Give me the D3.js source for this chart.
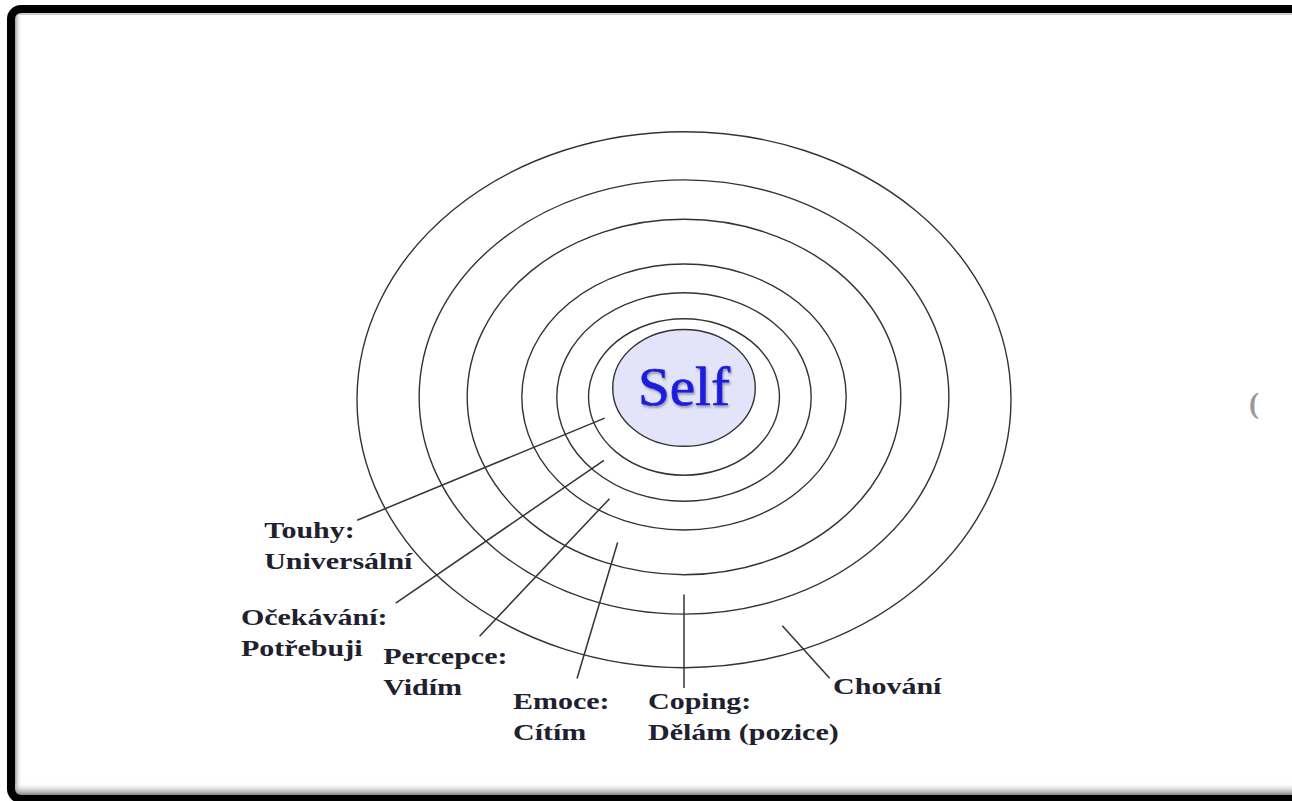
<!DOCTYPE html>
<html>
<head>
<meta charset="utf-8">
<script src="https://cdn.jsdelivr.net/npm/d3@7"></script>
<style>
  html, body { margin: 0; padding: 0; background: #fff; }
  svg { display: block; }
</style>
</head>
<body>
<svg width="1292" height="801"></svg>
<script>
// vrstvy od středu ven
var layers = ["Self", "Touhy", "Očekávání", "Percepce", "Emoce", "Coping", "Chování"];
// poloměry kruhů (podíl vnějšího kruhu)
var ringRadius = [0.218, 0.292, 0.389, 0.496, 0.663, 0.81, 1.0];
// svislý posun středu kruhu (kruhy nejsou přesně soustředné)
var ringShift = [-0.034, 0, 0, 0, 0, 0, 0.01];
// popisky (první a druhý řádek)
var labelLines = [
    ["Touhy:", "Universální"],
    ["Očekávání:", "Potřebuji"],
    ["Percepce:", "Vidím"],
    ["Emoce:", "Cítím"],
    ["Coping:", "Dělám (pozice)"],
    ["Chování"]
];
var centerText = "Self";

// rozložení: úhel čáry ve stupních, konec čáry [úhel, poloměr], pozice popisku [x, y] v jednotkách diagramu
var leaderAngle = [162, 136, 121, 110.5, 90, 70.6];
var leaderEnd = [[155.3, 1.10], [138.9, 1.17], [125, 1.09], [107.3, 1.10], [90, 1.086], [67, 1.14]];
var labelPos = [[-1.284, 0.526], [-1.355, 0.850], [-0.92, 0.995], [-0.523, 1.163], [-0.11, 1.163], [0.456, 1.108]];

var svg = d3.select("svg"),
    W = +svg.attr("width"),
    H = +svg.attr("height");

/*
  rámeček s vnitřním stínem
*/
var defs = svg.append("defs");
var gl = defs.append("linearGradient").attr("id", "shL").attr("x1", 0).attr("x2", 1).attr("y1", 0).attr("y2", 0);
gl.append("stop").attr("offset", 0).attr("stop-color", "#888").attr("stop-opacity", 0.8);
gl.append("stop").attr("offset", 1).attr("stop-color", "#fff").attr("stop-opacity", 0);
var gb = defs.append("linearGradient").attr("id", "shB").attr("x1", 0).attr("x2", 0).attr("y1", 0).attr("y2", 1);
gb.append("stop").attr("offset", 0).attr("stop-color", "#fff").attr("stop-opacity", 0);
gb.append("stop").attr("offset", 1).attr("stop-color", "#777").attr("stop-opacity", 0.9);
defs.append("filter").attr("id", "txtShadow")
    .append("feDropShadow").attr("dx", 1).attr("dy", 2).attr("stdDeviation", 1.2)
    .attr("flood-color", "#555").attr("flood-opacity", 0.55);

svg.append("rect").attr("width", W).attr("height", H).attr("fill", "#fff");
svg.append("rect").attr("x", 15).attr("y", 13).attr("width", 7).attr("height", 782).attr("fill", "url(#shL)");
svg.append("rect").attr("x", 15).attr("y", 782).attr("width", W).attr("height", 13).attr("fill", "url(#shB)");
svg.append("rect").attr("x", 15).attr("y", 13).attr("width", W).attr("height", 2).attr("fill", "#ccc");
svg.append("rect")
    .attr("x", 11).attr("y", 9)
    .attr("width", 1400).attr("height", 790)
    .attr("rx", 10)
    .attr("fill", "none")
    .attr("stroke", "#000")
    .attr("stroke-width", 8);

/*
  škály diagramu (obrázek je vodorovně roztažený)
*/
var cx = 684, cy = 397, Rx = 327, Ry = 268;
var x = d3.scaleLinear().domain([-1, 1]).range([cx - Rx, cx + Rx]);
var y = d3.scaleLinear().domain([-1, 1]).range([cy - Ry, cy + Ry]);
function px(a, r) { return x(r * Math.cos(a * Math.PI / 180)); }
function py(a, r) { return y(r * Math.sin(a * Math.PI / 180)); }

var g = svg.append("g");

// kruhy od největšího
var rings = layers.map(function(d, i) { return {name: d, r: ringRadius[i], dy: ringShift[i]}; }).reverse();
g.selectAll("ellipse.ring")
    .data(rings)
    .enter().append("ellipse")
    .attr("class", "ring")
    .attr("cx", x(0))
    .attr("cy", function(d) { return y(d.dy); })
    .attr("rx", function(d) { return x(d.r) - x(0); })
    .attr("ry", function(d) { return y(d.r) - y(0); })
    .attr("fill", function(d) { return d.name == "Self" ? "#e3e3f9" : "none"; })
    .attr("stroke", "#333")
    .attr("stroke-width", 1.4);

g.append("text")
    .attr("x", x(0))
    .attr("y", y(ringShift[0]) + 17)
    .attr("text-anchor", "middle")
    .attr("font-family", "'Liberation Serif', 'Times New Roman', serif")
    .attr("font-size", 54)
    .attr("fill", "#1d1ddc")
    .attr("stroke", "#1d1ddc")
    .attr("stroke-width", 0.7)
    .attr("filter", "url(#txtShadow)")
    .attr("transform", "translate(" + x(0) + ",0) scale(1.06,1) translate(" + (-x(0)) + ",0)")
    .text(centerText);

// vodicí čáry
var leaders = labelLines.map(function(d, i) {
    var r = (ringRadius[i] + ringRadius[i + 1]) / 2;
    return {
        x1: px(leaderAngle[i], r), y1: py(leaderAngle[i], r),
        x2: px(leaderEnd[i][0], leaderEnd[i][1]), y2: py(leaderEnd[i][0], leaderEnd[i][1])
    };
});
g.selectAll("line.leader")
    .data(leaders)
    .enter().append("line")
    .attr("class", "leader")
    .attr("x1", function(d) { return d.x1; })
    .attr("y1", function(d) { return d.y1; })
    .attr("x2", function(d) { return d.x2; })
    .attr("y2", function(d) { return d.y2; })
    .attr("stroke", "#333")
    .attr("stroke-width", 1.5);

// popisky
var lab = g.selectAll("g.label")
    .data(labelLines)
    .enter().append("g")
    .attr("class", "label")
    .attr("transform", function(d, i) {
        return "translate(" + x(labelPos[i][0]) + "," + y(labelPos[i][1]) + ") scale(1.25,1)";
    });
lab.selectAll("text")
    .data(function(d) { return d; })
    .enter().append("text")
    .attr("x", 0)
    .attr("y", function(d, i) { return i * 31; })
    .attr("font-family", "'Liberation Serif', 'Times New Roman', serif")
    .attr("font-weight", "bold")
    .attr("font-size", 24)
    .attr("fill", "#20202e")
    .text(function(d) { return d; });

// useknutý znak u pravého okraje
svg.append("text")
    .attr("x", 1249).attr("y", 413)
    .attr("font-family", "'Liberation Serif', serif")
    .attr("font-weight", "bold")
    .attr("font-size", 30)
    .attr("fill", "#999")
    .text("(");
</script>
</body>
</html>
